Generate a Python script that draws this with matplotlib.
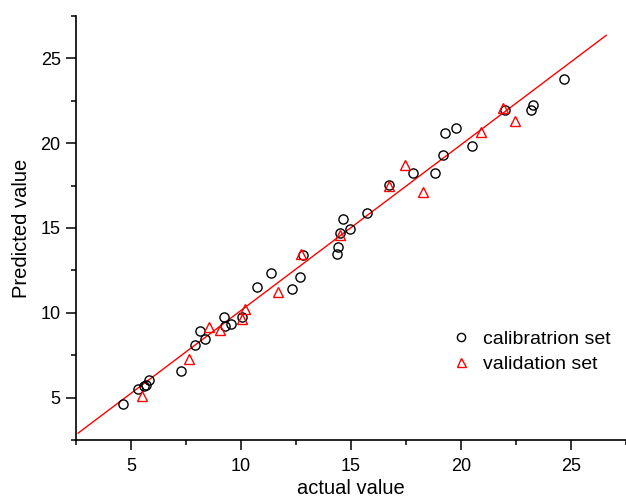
import numpy as np
import matplotlib.pyplot as plt
from matplotlib.ticker import MultipleLocator

plt.rcParams['font.family'] = ['Liberation Sans', 'DejaVu Sans']

# calibration set (actual, predicted)
cal_actual = [4.65, 5.32, 5.60, 5.68, 5.83, 7.28, 7.91, 8.13, 8.38, 9.25,
              9.29, 9.53, 10.05, 10.72, 11.36, 12.32, 12.70, 12.82, 14.35, 14.41,
              14.52, 14.64, 14.94, 15.73, 16.72, 17.80, 18.83, 19.16, 19.28, 19.78,
              20.51, 21.98, 23.20, 23.29, 24.69]
cal_pred = [4.62, 5.48, 5.68, 5.74, 6.03, 6.56, 8.12, 8.95, 8.45, 9.73,
            9.25, 9.33, 9.75, 11.52, 12.34, 11.40, 12.10, 13.38, 13.44, 13.86,
            14.68, 15.52, 14.94, 15.90, 17.51, 18.25, 18.22, 19.30, 20.58, 20.87,
            19.85, 21.93, 21.93, 22.25, 23.80]

# validation set (actual, predicted)
val_actual = [5.49, 7.65, 8.54, 9.05, 10.03, 10.20, 11.70, 12.75, 14.52, 16.72,
              17.44, 18.27, 20.90, 21.90, 22.44]
val_pred = [5.11, 7.25, 9.14, 8.96, 9.66, 10.22, 11.22, 13.44, 14.58, 17.47,
            18.71, 17.10, 20.64, 22.05, 21.32]

# regression line
fit_slope = 0.977
fit_intercept = 0.37
fit_range = [2.6, 26.6]

fig = plt.figure(figsize=(6.26, 4.99), dpi=100)
ax = fig.add_axes([0.1214, 0.1182, 0.8786, 0.8498])

fx = np.array(fit_range)
ax.plot(fx, fit_slope * fx + fit_intercept, color='red', lw=1.0, zorder=1)

ax.plot(cal_actual, cal_pred, 'o', ms=6.6, mfc='none', mec='black', mew=1.0,
        label='calibratrion set', zorder=2)
ax.plot(val_actual, val_pred, '^', ms=7.2, mfc='none', mec='red', mew=1.0,
        label='validation set', zorder=3)

ax.set_xlim(2.5, 27.5)
ax.set_ylim(2.5, 27.5)
ax.xaxis.set_major_locator(MultipleLocator(5))
ax.xaxis.set_minor_locator(MultipleLocator(2.5))
ax.yaxis.set_major_locator(MultipleLocator(5))
ax.yaxis.set_minor_locator(MultipleLocator(2.5))

for side in ['top', 'right']:
    ax.spines[side].set_visible(False)
for side in ['left', 'bottom']:
    ax.spines[side].set_linewidth(1.2)

ax.tick_params(which='major', direction='out', length=7, width=1.1, labelsize=13)
ax.tick_params(which='minor', direction='out', length=3.5, width=1.1)
ax.tick_params(axis='x', which='major', pad=6)
ax.tick_params(axis='y', which='major', pad=4)

ax.set_xlabel('actual value', fontsize=14.5, labelpad=3)
ax.set_ylabel('Predicted value', fontsize=14.5, labelpad=7)

leg = ax.legend(loc='upper left', bbox_to_anchor=(0.679, 0.258), frameon=False,
                fontsize=14, markerscale=0.9, handlelength=1.2, handletextpad=0.55,
                labelspacing=0.35, borderaxespad=0, borderpad=0)

fig.savefig('out.png', dpi=100)
